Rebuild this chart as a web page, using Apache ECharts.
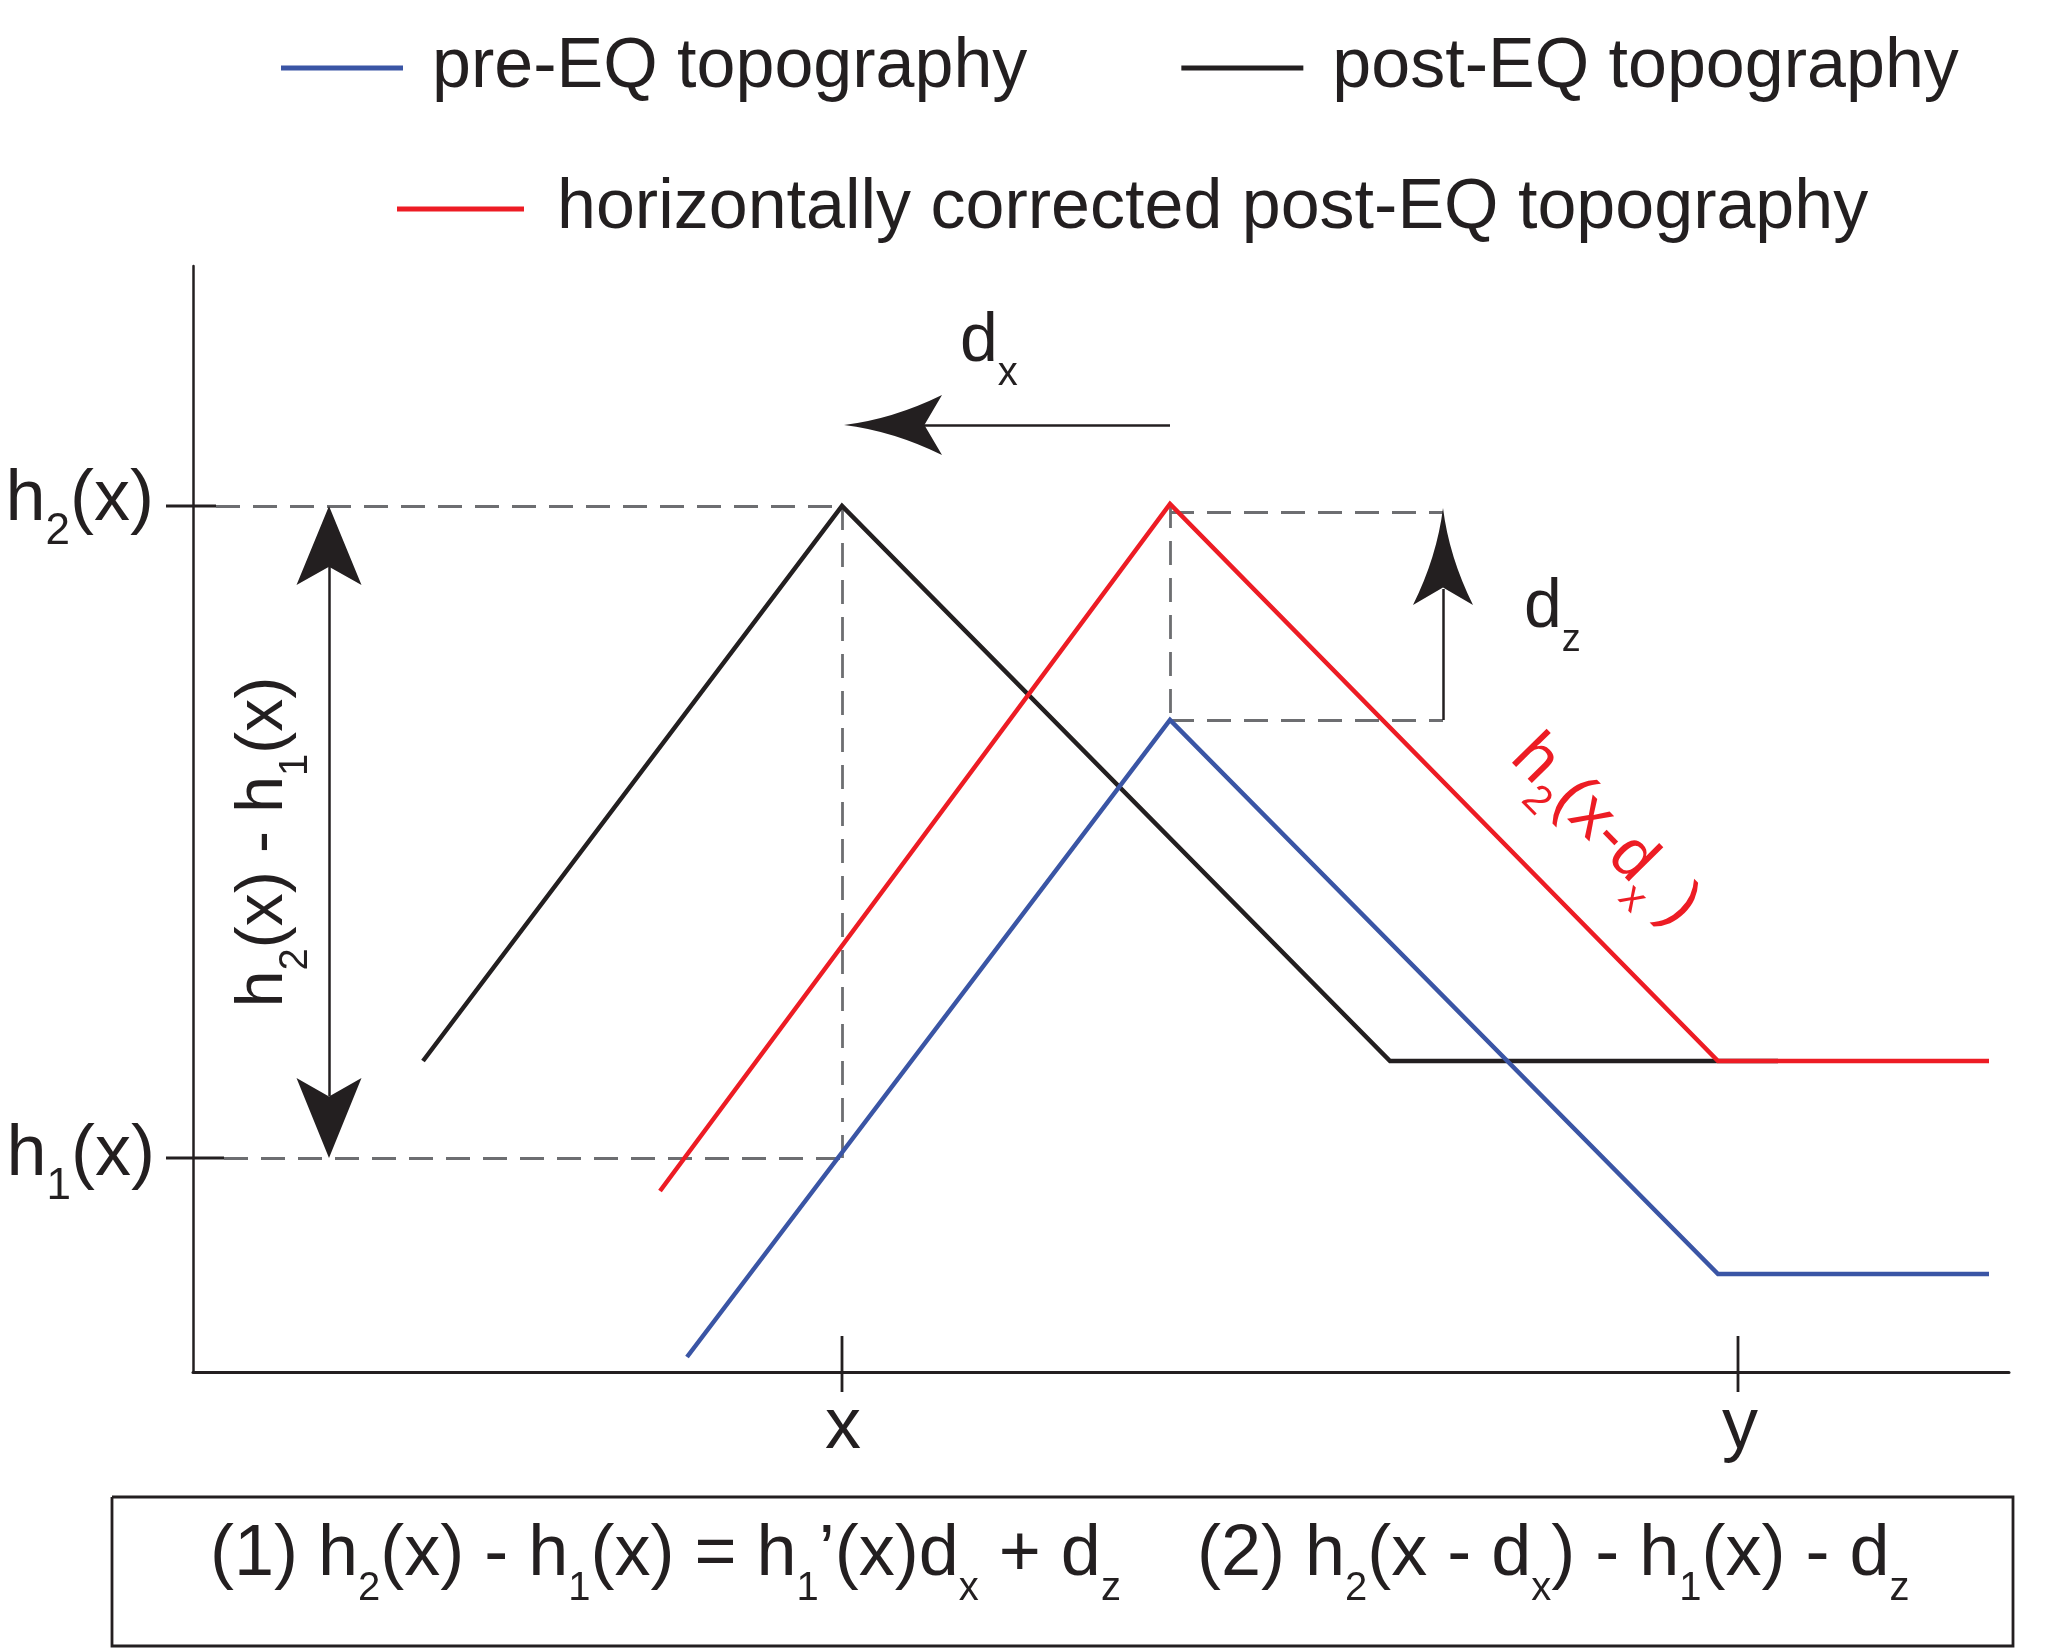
<!DOCTYPE html>
<html>
<head>
<meta charset="utf-8">
<title>pre/post EQ topography</title>
<script src="https://cdn.jsdelivr.net/npm/echarts@6/dist/echarts.min.js"></script>
<style>
html, body { margin: 0; padding: 0; background: #fff; }
#chart { width: 2057px; height: 1652px; }
</style>
</head>
<body>
<div id="chart"></div>
<script>
// units: 1 = 1 px of the figure, origin at the corner of the axes
var preEQ = [[494, 15], [977, 652], [1525, 98], [1796, 98]];
var postEQ = [[230, 311], [649, 866], [1197, 311], [1585, 311]];
var correctedEQ = [[467, 181], [977, 868], [1525, 311], [1796, 311]];

// dashed construction lines
var guideSegs = [
	[[23, 866], [649, 866]],
	[[31, 214], [649, 214]],
	[[649, 866], [649, 214]],
	[[977, 860], [1250, 860]],
	[[977, 868], [977, 652]],
	[[977, 652], [1250, 652]]
];
// tick marks on the axes
var tickSegs = [
	[[-27, 866], [23, 866]],
	[[-27, 214], [31, 214]],
	[[649, 36], [649, -20]],
	[[1545, 36], [1545, -20]]
];
// arrow shafts: h2-h1, dx, dz
var shaftSegs = [
	[[136, 806], [136, 276]],
	[[977, 947], [730, 947]],
	[[1250, 652], [1250, 783]]
];
// formula frame
var boxFrame = [[-81, -125], [1820, -125], [1820, -274], [-81, -274], [-81, -125]];
// arrow heads: tip x, tip y, direction, width, length, shape
var arrowHeads = [
	[136, 866, 'up', 65, 79, 'plain'],
	[136, 214, 'down', 65, 80, 'plain'],
	[651, 947, 'left', 60, 98, 'curved'],
	[1250, 864, 'up', 60, 97, 'curved']
];
// text anchors: x, y, id
var textMarks = [
	[-39, 872, 'h2'],
	[-38, 217, 'h1'],
	[650, -56, 'x'],
	[1547, -56, 'y'],
	[767, 1030, 'dx'],
	[1331, 764, 'dz'],
	[71, 530, 'diff'],
	[1412, 541, 'shifted'],
	[17, -183, 'formula']
];
var seriesNames = ['pre-EQ topography', 'post-EQ topography', 'horizontally corrected post-EQ topography'];

var INK = '#231f20', BLUE = '#3a55a5', RED = '#ed1c24', GREY = '#6d6e71';
var FONT = '"Liberation Sans", Arial, Helvetica, sans-serif';

function richSet(main, sub, lh, color) {
	return {
		m : { fontSize : main, lineHeight : lh, color : color, fontFamily : FONT, textBorderWidth : 0 },
		s : { fontSize : sub, lineHeight : sub, verticalAlign : 'bottom', color : color, fontFamily : FONT, textBorderWidth : 0 },
		g : { width : 76, fontSize : main, lineHeight : lh, textBorderWidth : 0 }
	};
}

var labelDefs = {
	h2 : { text : '{m|h}{s|2}{m|(x)}', align : 'right', rich : richSet(72, 44, 108, INK) },
	h1 : { text : '{m|h}{s|1}{m|(x)}', align : 'right', rich : richSet(72, 44, 108, INK) },
	x : { text : '{m|x}', align : 'center', rich : richSet(72, 44, 108, INK) },
	y : { text : '{m|y}', align : 'center', rich : richSet(72, 44, 108, INK) },
	dx : { text : '{m|d}{s|x}', align : 'left', rich : richSet(68, 40, 103, INK) },
	dz : { text : '{m|d}{s|z}', align : 'left', rich : richSet(68, 38, 103, INK) },
	diff : { text : '{m|h}{s|2}{m|(x) - h}{s|1}{m|(x)}', align : 'center', rotate : 90, rich : richSet(66, 40, 104, INK) },
	shifted : { text : '{m|h}{s|2}{m|(x-d}{s|x}{m| )}', align : 'center', rotate : -45.5, rich : richSet(67, 41, 97, RED) },
	formula : {
		text : '{m|(1) h}{s|2}{m|(x) - h}{s|1}{m|(x) = h}{s|1}{m|\u2019(x)d}{s|x}{m| + d}{s|z}{g| }'
			+ '{m|(2) h}{s|2}{m|(x - d}{s|x}{m|) - h}{s|1}{m|(x) - d}{s|z}',
		align : 'left', rich : richSet(72, 40, 107, INK)
	}
};

var headPaths = {
	plain : 'path://M30,0L60,100L30,77L0,100Z',
	curved : 'path://M30,0Q36,50 60,100L30,82L0,100Q24,50 30,0Z'
};

function segData(segs) {
	return segs.map(function(s) { return { coords : s }; });
}

function headData() {
	return arrowHeads.map(function(a) {
		var len = a[4], rot = 0, off = [0, len / 2];
		if (a[2] == 'down') { rot = 180; off = [0, -len / 2]; }
		if (a[2] == 'left') { rot = 90; off = [len / 2, 0]; }
		return {
			value : [a[0], a[1]],
			symbol : headPaths[a[5]],
			symbolSize : [a[3], len],
			symbolRotate : rot,
			symbolOffset : off
		};
	});
}

function textData() {
	return textMarks.map(function(t) {
		var d = labelDefs[t[2]];
		return {
			value : [t[0], t[1]],
			label : {
				show : true,
				position : 'inside',
				align : d.align,
				verticalAlign : 'middle',
				rotate : d.rotate || 0,
				color : INK,
				opacity : 1,
				textBorderWidth : 0,
				textBorderColor : 'transparent',
				formatter : d.text,
				rich : d.rich
			}
		};
	});
}

function topoSeries(name, data, color) {
	return {
		name : name,
		type : 'line',
		data : data,
		color : color,
		showSymbol : false,
		clip : false,
		silent : true,
		lineStyle : { color : color, width : 4.5, join : 'miter' },
		itemStyle : { color : color }
	};
}

var chart = echarts.init(document.getElementById('chart'));
function legendOpt(left, top, names, iconW, gapText) {
	return {
		left : left,
		top : top,
		data : names,
		orient : 'horizontal',
		itemWidth : iconW,
		itemHeight : 5,
		itemGap : 154,
		padding : 0,
		icon : 'rect',
		selectedMode : false,
		textStyle : { fontSize : 70, color : INK, fontFamily : FONT, padding : [0, 0, 0, gapText] }
	};
}

chart.setOption({
	animation : false,
	backgroundColor : '#fff',
	legend : [
		legendOpt(281, 33, [seriesNames[0], seriesNames[1]], 122, 24),
		legendOpt(397, 174, [seriesNames[2]], 127, 28)
	],
	grid : { left : 193, top : 266, width : 1816, height : 1106, containLabel : false },
	xAxis : {
		type : 'value', min : 0, max : 1816,
		axisLine : { show : true, onZero : false, lineStyle : { color : INK, width : 3 } },
		axisTick : { show : false }, axisLabel : { show : false }, splitLine : { show : false }
	},
	yAxis : {
		type : 'value', min : 0, max : 1106,
		axisLine : { show : true, onZero : false, lineStyle : { color : INK, width : 2.5 } },
		axisTick : { show : false }, axisLabel : { show : false }, splitLine : { show : false }
	},
	series : [
		{
			type : 'lines', coordinateSystem : 'cartesian2d', clip : false, silent : true,
			data : segData(guideSegs),
			lineStyle : { color : GREY, width : 2.8, type : [24, 13], opacity : 1, curveness : 0 }
		},
		{
			type : 'lines', coordinateSystem : 'cartesian2d', clip : false, silent : true,
			data : segData(tickSegs).concat([{ coords : boxFrame }]),
			polyline : true,
			lineStyle : { color : INK, width : 2.8, opacity : 1, curveness : 0 }
		},
		{
			type : 'lines', coordinateSystem : 'cartesian2d', clip : false, silent : true,
			data : segData(shaftSegs),
			lineStyle : { color : INK, width : 2.5, opacity : 1, curveness : 0 }
		},
		topoSeries(seriesNames[1], postEQ, INK),
		topoSeries(seriesNames[0], preEQ, BLUE),
		topoSeries(seriesNames[2], correctedEQ, RED),
		{
			type : 'scatter', clip : false, silent : true,
			data : headData(),
			itemStyle : { color : INK, opacity : 1 }
		},
		{
			type : 'scatter', clip : false, silent : true,
			symbolSize : 1,
			data : textData(),
			itemStyle : { color : '#fff' }
		}
	]
});
</script>
</body>
</html>
